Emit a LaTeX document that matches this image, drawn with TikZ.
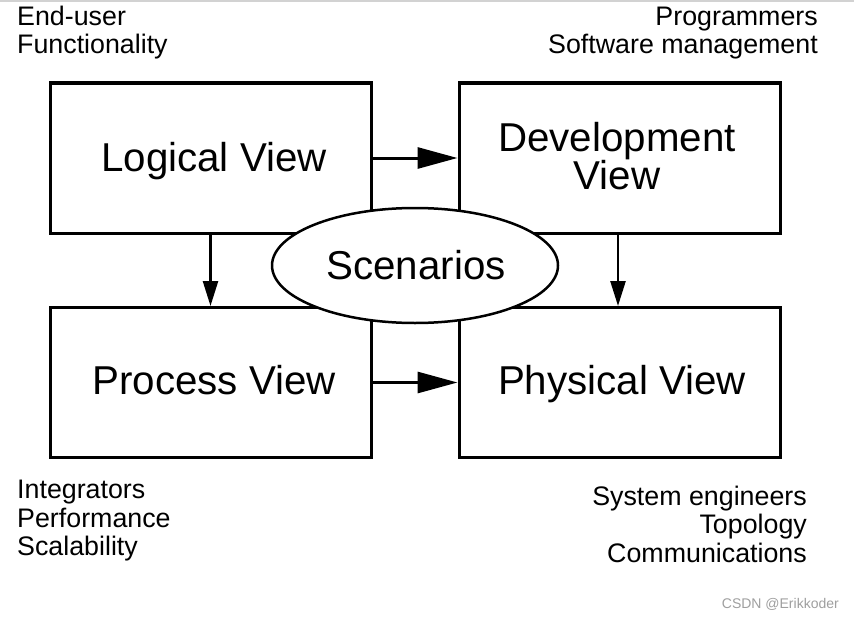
\documentclass[tikz,border=0pt]{standalone}
\usepackage{fontspec}
\setmainfont{Liberation Sans}
\usetikzlibrary{arrows.meta,shapes.geometric}
\begin{document}
\begin{tikzpicture}[x=1pt,y=-1pt,
  viewbox/.style={draw=black,line width=3pt,minimum width=321pt,minimum height=150pt,inner sep=0pt},
  boxtext/.style={font=\fontsize{40.3}{38}\selectfont,inner sep=0pt,anchor=base},
  bigarrow/.style={line width=3pt,-{Triangle[length=40pt,width=21pt]}},
  smallarrow/.style={line width=2.5pt,-{Triangle[length=25pt,width=15pt]}},
  lbl/.style={font=\fontsize{26.8}{28}\selectfont,inner sep=0pt}]
\useasboundingbox (0,0) rectangle (854,618);
\fill[white] (0,0) rectangle (854,618);
\draw[gray!35,line width=1.5pt] (0,1) -- (854,1);
% boxes
\node[viewbox] (logical) at (210.5,158) {};
\node[viewbox] (dev) at (619.5,158) {};
\node[viewbox] (process) at (210.5,382.5) {};
\node[viewbox] (phys) at (619.5,382.5) {};
% box texts
\node[boxtext] (tlog) at (214,171) {Logical View};
\node[boxtext] (tdev1) at (617,151) {Development};
\node[boxtext] (tdev2) at (617,189) {View};
\node[boxtext] (tproc) at (214,394) {Process View};
\node[boxtext] (tphys) at (622,394) {Physical View};
% arrows
\draw[bigarrow] (logical) -- (dev);
\draw[bigarrow] (process) -- (phys);
\draw[smallarrow] (logical) -- (process);
\draw[smallarrow] ([xshift=-1.5pt]dev.south) -- ([xshift=-1.5pt]phys.north);
% scenarios
\node[ellipse,draw=black,line width=2.5pt,fill=white,minimum width=286pt,minimum height=115pt,inner sep=0pt] (scen) at (415,265.5) {};
\node[boxtext] (tscen) at (416,279) {Scenarios};
% labels
\node[lbl,anchor=base west] (l1) at (17,26) {End-user};
\node[lbl,anchor=base west] (l2) at (17,54) {Functionality};
\node[lbl,anchor=base east] (r1) at (818,26) {Programmers};
\node[lbl,anchor=base east] (r2) at (818,54) {Software management};
\node[lbl,anchor=base west] (bl1) at (17,498) {Integrators};
\node[lbl,anchor=base west] (bl2) at (17,527) {Performance};
\node[lbl,anchor=base west] (bl3) at (17,555) {Scalability};
\node[lbl,anchor=base east] (br1) at (807,505) {System engineers};
\node[lbl,anchor=base east] (br2) at (807,533.5) {Topology};
\node[lbl,anchor=base east] (br3) at (807,562) {Communications};
\node[font=\fontsize{14}{15}\selectfont,text=gray!75,inner sep=0pt,anchor=base east] (wm) at (839,608) {CSDN @Erikkoder};
\end{tikzpicture}
\end{document}
